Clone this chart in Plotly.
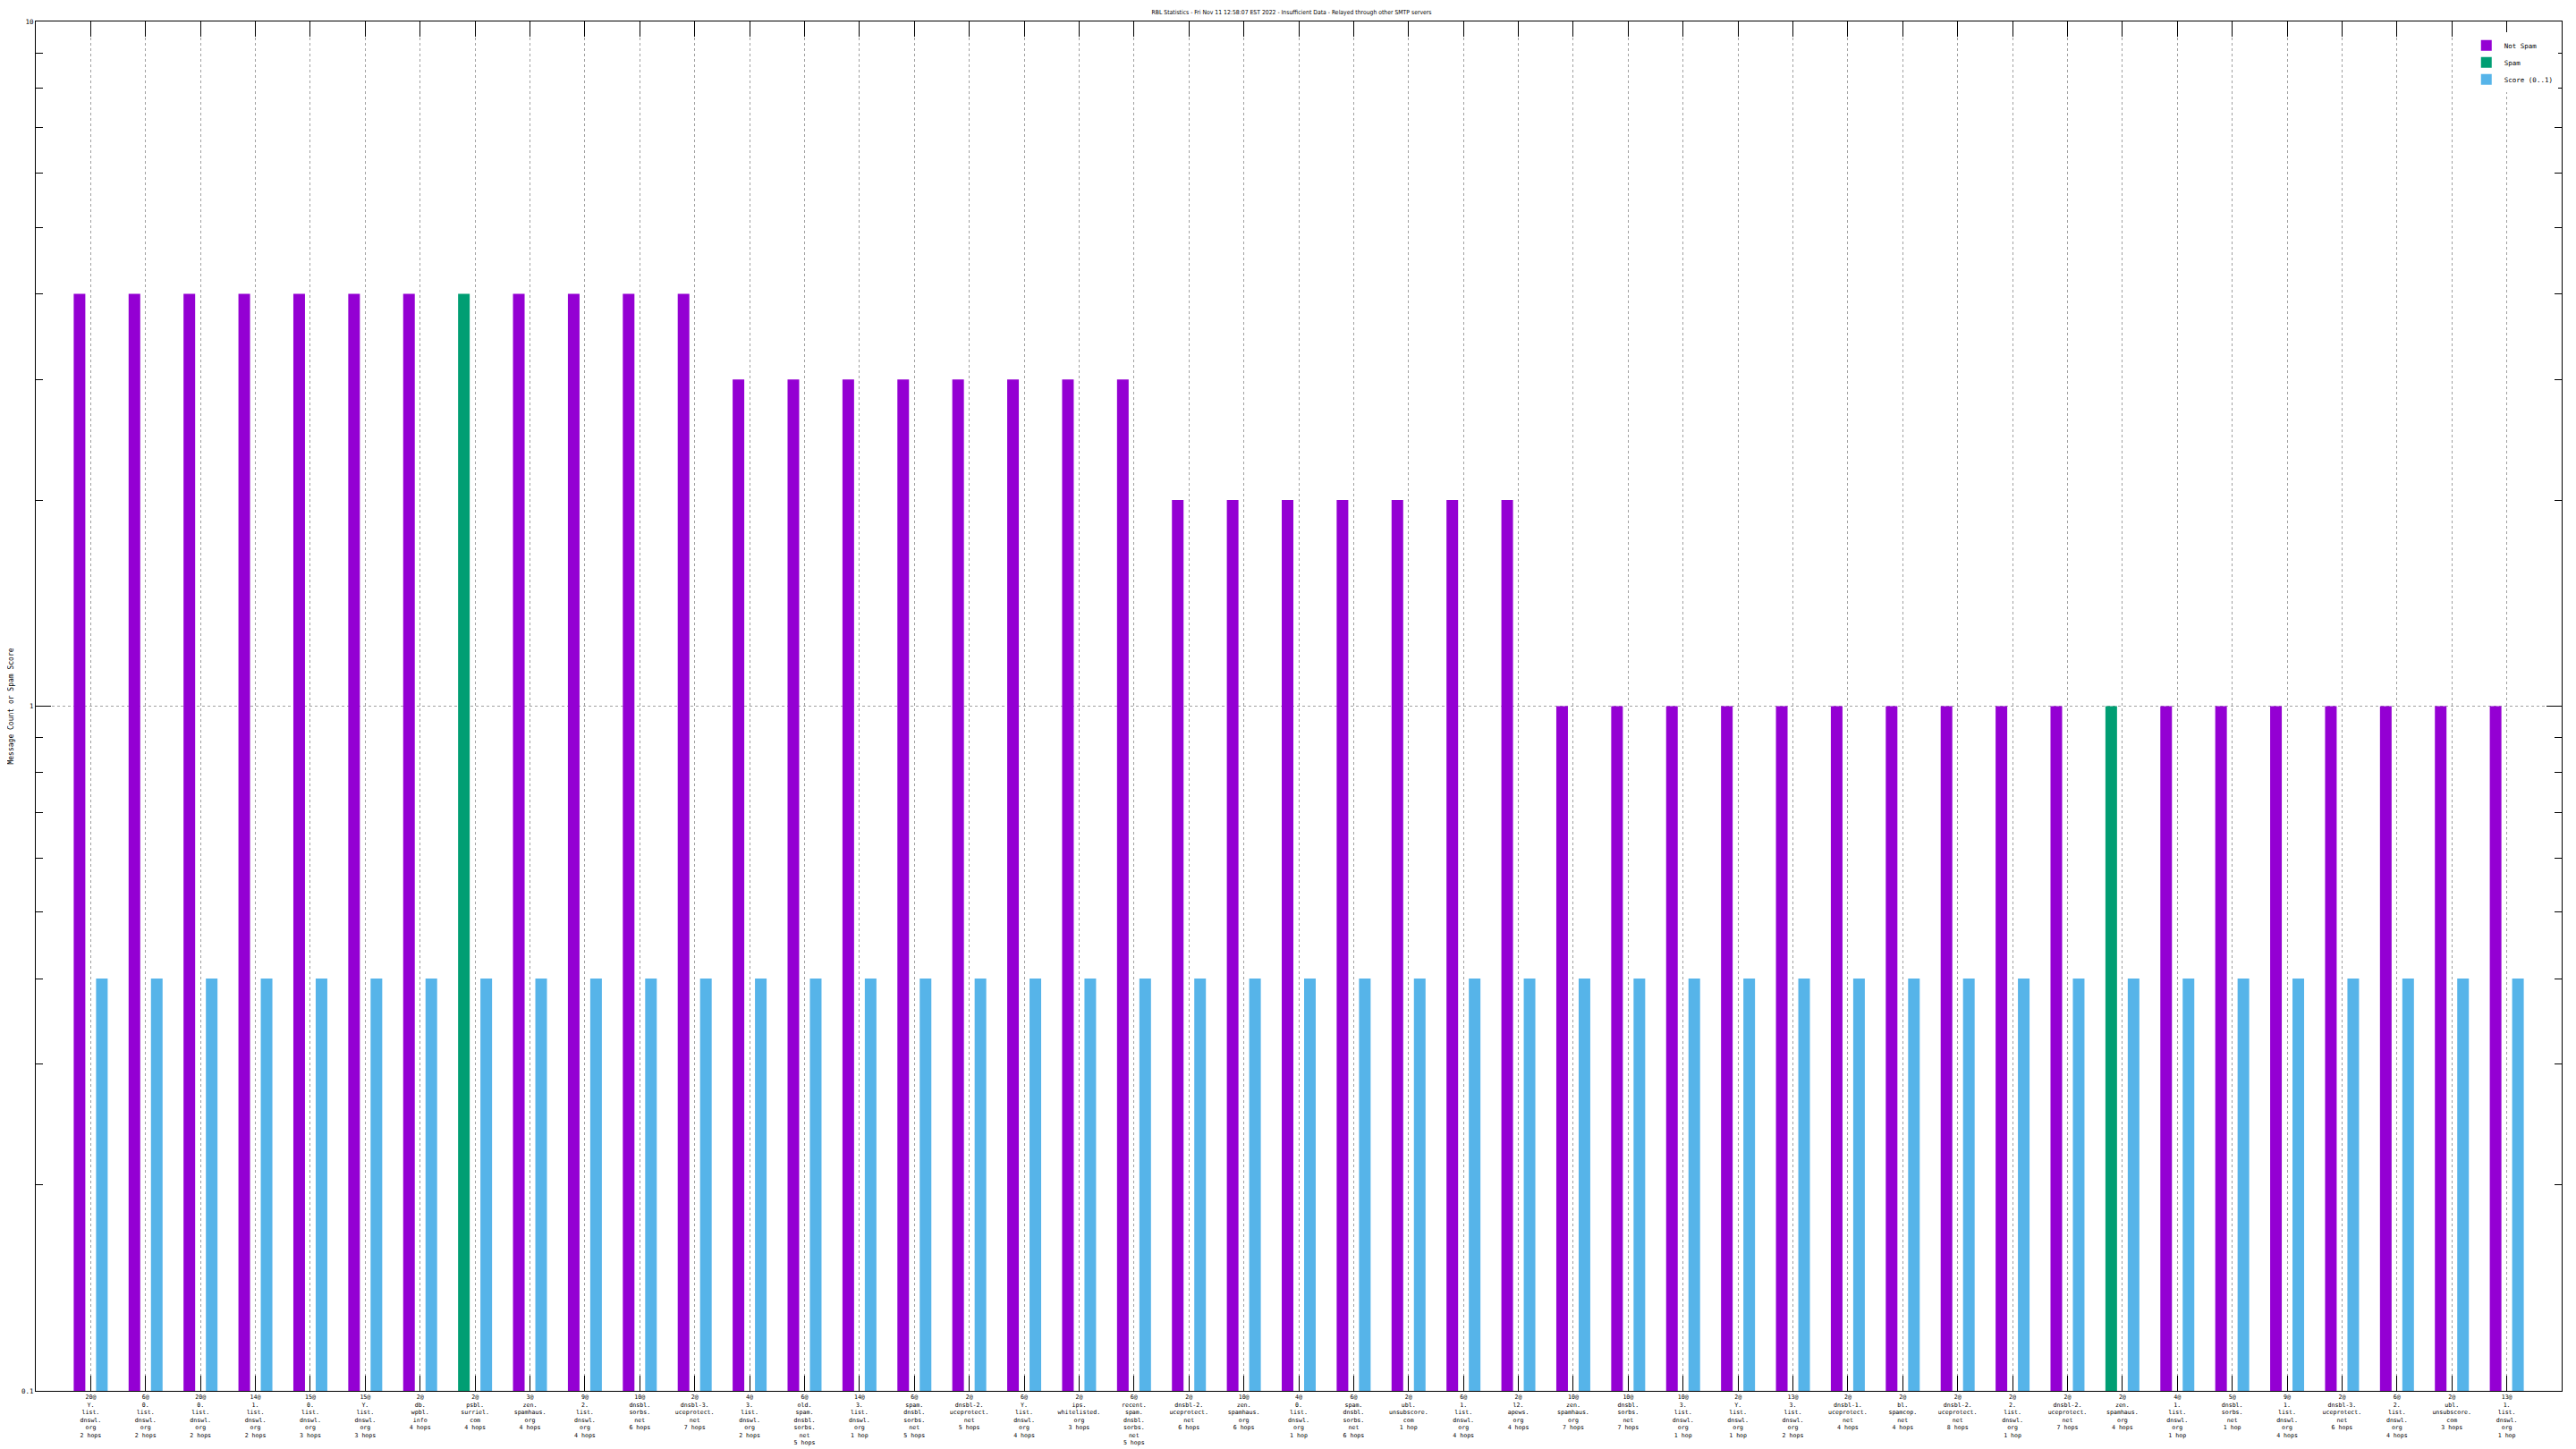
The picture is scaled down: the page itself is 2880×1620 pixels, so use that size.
import plotly.graph_objects as go

categories = [
    "20@<br>Y.<br>list.<br>dnswl.<br>org<br>2 hops",
    "6@<br>0.<br>list.<br>dnswl.<br>org<br>2 hops",
    "20@<br>0.<br>list.<br>dnswl.<br>org<br>2 hops",
    "14@<br>1.<br>list.<br>dnswl.<br>org<br>2 hops",
    "15@<br>0.<br>list.<br>dnswl.<br>org<br>3 hops",
    "15@<br>Y.<br>list.<br>dnswl.<br>org<br>3 hops",
    "2@<br>db.<br>wpbl.<br>info<br>4 hops",
    "2@<br>psbl.<br>surriel.<br>com<br>4 hops",
    "3@<br>zen.<br>spamhaus.<br>org<br>4 hops",
    "9@<br>2.<br>list.<br>dnswl.<br>org<br>4 hops",
    "10@<br>dnsbl.<br>sorbs.<br>net<br>6 hops",
    "2@<br>dnsbl-3.<br>uceprotect.<br>net<br>7 hops",
    "4@<br>3.<br>list.<br>dnswl.<br>org<br>2 hops",
    "6@<br>old.<br>spam.<br>dnsbl.<br>sorbs.<br>net<br>5 hops",
    "14@<br>3.<br>list.<br>dnswl.<br>org<br>1 hop",
    "6@<br>spam.<br>dnsbl.<br>sorbs.<br>net<br>5 hops",
    "2@<br>dnsbl-2.<br>uceprotect.<br>net<br>5 hops",
    "6@<br>Y.<br>list.<br>dnswl.<br>org<br>4 hops",
    "2@<br>ips.<br>whitelisted.<br>org<br>3 hops",
    "6@<br>recent.<br>spam.<br>dnsbl.<br>sorbs.<br>net<br>5 hops",
    "2@<br>dnsbl-2.<br>uceprotect.<br>net<br>6 hops",
    "10@<br>zen.<br>spamhaus.<br>org<br>6 hops",
    "4@<br>0.<br>list.<br>dnswl.<br>org<br>1 hop",
    "6@<br>spam.<br>dnsbl.<br>sorbs.<br>net<br>6 hops",
    "2@<br>ubl.<br>unsubscore.<br>com<br>1 hop",
    "6@<br>1.<br>list.<br>dnswl.<br>org<br>4 hops",
    "2@<br>l2.<br>apews.<br>org<br>4 hops",
    "10@<br>zen.<br>spamhaus.<br>org<br>7 hops",
    "10@<br>dnsbl.<br>sorbs.<br>net<br>7 hops",
    "10@<br>3.<br>list.<br>dnswl.<br>org<br>1 hop",
    "2@<br>Y.<br>list.<br>dnswl.<br>org<br>1 hop",
    "13@<br>3.<br>list.<br>dnswl.<br>org<br>2 hops",
    "2@<br>dnsbl-1.<br>uceprotect.<br>net<br>4 hops",
    "2@<br>bl.<br>spamcop.<br>net<br>4 hops",
    "2@<br>dnsbl-2.<br>uceprotect.<br>net<br>8 hops",
    "2@<br>2.<br>list.<br>dnswl.<br>org<br>1 hop",
    "2@<br>dnsbl-2.<br>uceprotect.<br>net<br>7 hops",
    "2@<br>zen.<br>spamhaus.<br>org<br>4 hops",
    "4@<br>1.<br>list.<br>dnswl.<br>org<br>1 hop",
    "5@<br>dnsbl.<br>sorbs.<br>net<br>1 hop",
    "9@<br>1.<br>list.<br>dnswl.<br>org<br>4 hops",
    "2@<br>dnsbl-3.<br>uceprotect.<br>net<br>6 hops",
    "6@<br>2.<br>list.<br>dnswl.<br>org<br>4 hops",
    "2@<br>ubl.<br>unsubscore.<br>com<br>3 hops",
    "13@<br>1.<br>list.<br>dnswl.<br>org<br>1 hop",
]

not_spam = [4, 4, 4, 4, 4, 4, 4, None, 4, 4, 4, 4,
            3, 3, 3, 3, 3, 3, 3, 3,
            2, 2, 2, 2, 2, 2, 2,
            1, 1, 1, 1, 1, 1, 1, 1, 1, 1, None, 1, 1, 1, 1, 1, 1, 1]
spam = [None] * 7 + [4] + [None] * 29 + [1] + [None] * 7
score = [0.4] * 45

y_tickvals = [0.1, 1, 10]
y_ticktext = ["0.1", "1", "10"]
y_minor = [0.2, 0.3, 0.4, 0.5, 0.6, 0.7, 0.8, 0.9, 2, 3, 4, 5, 6, 7, 8, 9]

x = list(range(len(categories)))

PURPLE = "#9400D3"
GREEN = "#009E73"
BLUE = "#56B4E9"
MONO = "DejaVu Sans Mono"

fig = go.Figure()
fig.add_trace(go.Bar(x=x, y=not_spam, name="Not Spam", marker_color=PURPLE,
                     marker_line_width=0, offsetgroup="a"))
fig.add_trace(go.Bar(x=x, y=spam, name="Spam", marker_color=GREEN,
                     marker_line_width=0, offsetgroup="a"))
fig.add_trace(go.Bar(x=x, y=score, name="Score (0..1)", marker_color=BLUE,
                     marker_line_width=0, offsetgroup="b"))

# page body has an 8px default margin, so the figure is offset by 8px
fig.update_layout(
    width=2872, height=1612,
    margin=dict(l=32, r=16, t=16, b=65, autoexpand=False),
    paper_bgcolor="white", plot_bgcolor="white",
    barmode="group", bargap=0.186, bargroupgap=0.48,
    title=dict(text="RBL Statistics - Fri Nov 11 12:58:07 EST 2022 - Insufficient Data - Relayed through other SMTP servers",
               x=0.5, xanchor="center", y=0.9968, yanchor="middle", automargin=False,
               font=dict(family="DejaVu Sans Condensed", size=6.8, color="black")),
    legend=dict(x=0.9985, y=0.992, xanchor="right", yanchor="top",
                bgcolor="white", borderwidth=0, traceorder="normal",
                font=dict(family=MONO, size=7.5, color="black"),
                itemwidth=30, tracegroupgap=4),
    showlegend=True,
)

fig.update_xaxes(
    range=[-1, len(categories)], tickmode="array", tickvals=x, ticktext=categories,
    ticks="inside", ticklen=17, tickwidth=1, tickcolor="black",
    showline=True, linecolor="black", linewidth=1, mirror="ticks",
    showgrid=True, gridcolor="#a0a0a0", griddash="dot", gridwidth=1,
    tickangle=0, tickfont=dict(family=MONO, size=6.6, color="black"),
    zeroline=False, automargin=False,
)
fig.update_yaxes(
    type="log", range=[-1, 1], tickmode="array", tickvals=y_tickvals, ticktext=y_ticktext,
    ticks="inside", ticklen=17, tickwidth=1, tickcolor="black",
    showline=True, linecolor="black", linewidth=1, mirror="ticks",
    showgrid=True, gridcolor="#a0a0a0", griddash="dot", gridwidth=1,
    tickfont=dict(family=MONO, size=7.5, color="black"),
    minor=dict(ticks="inside", ticklen=8, tickcolor="black", tickwidth=1, showgrid=False,
               tickmode="array", tickvals=y_minor),
    title=dict(text="Message Count or Spam Score", standoff=8,
               font=dict(family=MONO, size=8, color="black")),
    zeroline=False, automargin=False,
)

fig.write_html("out.html")
